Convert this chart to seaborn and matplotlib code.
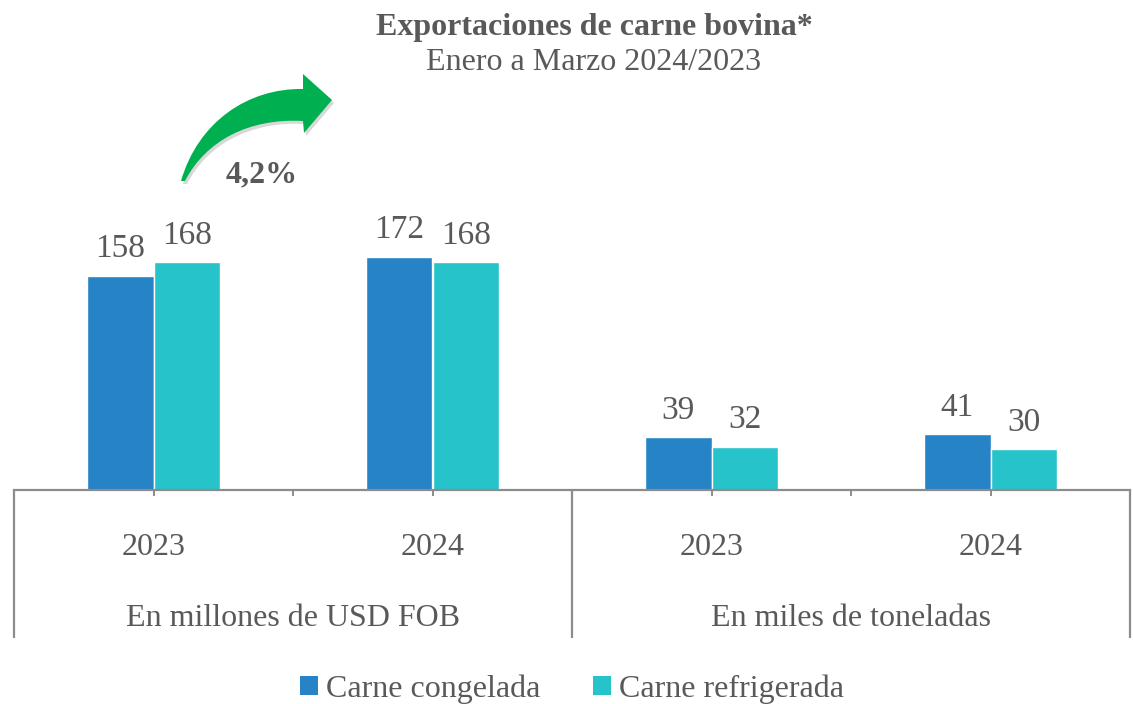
import matplotlib
matplotlib.use("Agg")
import matplotlib.pyplot as plt
import seaborn as sns
import pandas as pd
from matplotlib.path import Path
from matplotlib.patches import PathPatch, Patch

# ---- data ----
groups = ["En millones de USD FOB", "En miles de toneladas"]
years = ["2023", "2024", "2023", "2024"]
cat_keys = ["USD-2023", "USD-2024", "TON-2023", "TON-2024"]
series = ["Carne congelada", "Carne refrigerada"]
congelada = [158, 172, 39, 41]
refrigerada = [168, 168, 32, 30]
growth_label = "4,2%"
title = "Exportaciones de carne bovina*"
subtitle = "Enero a Marzo 2024/2023"

colors = ["#2683C6", "#27C3CB"]
gray = "#595959"
line_gray = "#8C8C8C"

df = pd.DataFrame({
    "cat": cat_keys * 2,
    "serie": [series[0]] * 4 + [series[1]] * 4,
    "valor": congelada + refrigerada,
})

sns.set_theme(style="white")
plt.rcParams["font.family"] = ["Liberation Serif", "DejaVu Serif"]

W, H = 1133, 704
fig = plt.figure(figsize=(W / 100, H / 100), dpi=100)
ax_top_px, ax_bot_px = 150, 490
ax_l_px, ax_r_px = 14, 1130
ax = fig.add_axes([ax_l_px / W, 1 - ax_bot_px / H,
                   (ax_r_px - ax_l_px) / W, (ax_bot_px - ax_top_px) / H])

sns.barplot(data=df, x="cat", y="valor", hue="serie", order=cat_keys,
            hue_order=series, palette=colors, width=0.48, gap=0,
            saturation=1, ax=ax, legend=False)

px_per_unit = 1.357
ax.set_ylim(0, (ax_bot_px - ax_top_px) / px_per_unit)
ax.set_xlim(-0.5, 3.5)

for cont in ax.containers:
    ax.bar_label(cont, fmt="%d", padding=8, fontsize=24, color=gray)

for s in ["left", "right", "top"]:
    ax.spines[s].set_visible(False)
ax.spines["bottom"].set_color(line_gray)
ax.spines["bottom"].set_linewidth(1.6)
ax.set_yticks([])
ax.set_xlabel("")
ax.set_ylabel("")

ax.set_xticks(range(4))
ax.set_xticklabels(years, fontsize=23, color=gray)
ax.set_xticks([0.5, 2.5], minor=True)
ax.tick_params(axis="x", which="both", direction="out", length=4,
               width=1.4, color=line_gray, bottom=True)
ax.tick_params(axis="x", which="major", pad=27)

trans = ax.get_xaxis_transform()
ax_h = ax_bot_px - ax_top_px
sep_bottom = -(638 - ax_bot_px) / ax_h
for xv in [-0.5, 1.5, 3.5]:
    ax.plot([xv, xv], [0, sep_bottom], transform=trans, color=line_gray,
            lw=1.6, clip_on=False, solid_capstyle="butt")

grp_y = -(618 - ax_bot_px) / ax_h
for gx, g in zip([0.5, 2.5], groups):
    ax.text(gx, grp_y, g, transform=trans, ha="center", va="center",
            fontsize=23, color=gray)

# title
fig.text(594 / W, 1 - 27 / H, title, ha="center", va="center",
         fontsize=23, fontweight="bold", color=gray)
fig.text(594 / W, 1 - 62 / H, subtitle, ha="center", va="center",
         fontsize=23, color=gray)

# curved growth arrow (decoration)
def P(x, y):
    return (x / W, 1 - y / H)

verts = [P(181, 181), P(198, 122), P(248, 88), P(303, 89),
         P(303, 74), P(332, 100), P(304, 133), P(303, 121),
         P(250, 118), P(206, 140), P(185, 181), P(181, 181)]
codes = [Path.MOVETO, Path.CURVE4, Path.CURVE4, Path.CURVE4,
         Path.LINETO, Path.LINETO, Path.LINETO, Path.LINETO,
         Path.CURVE4, Path.CURVE4, Path.CURVE4, Path.CLOSEPOLY]
shadow = [(x + 2 / W, y - 3 / H) for x, y in verts]
fig.patches.append(PathPatch(Path(shadow, codes), facecolor="#BFBFBF",
                             edgecolor="none", alpha=0.6,
                             transform=fig.transFigure, figure=fig))
fig.patches.append(PathPatch(Path(verts, codes), facecolor="#00B050",
                             edgecolor="none", transform=fig.transFigure,
                             figure=fig))
fig.text(262 / W, 1 - 175 / H, growth_label, ha="center", va="center",
         fontsize=23, fontweight="bold", color=gray)

# legend
handles = [Patch(facecolor=c, edgecolor="none") for c in colors]
fig.legend(handles, series, loc="center", bbox_to_anchor=(572 / W, 1 - 689 / H),
           ncol=2, frameon=False, fontsize=23, labelcolor=gray,
           handlelength=0.55, handleheight=0.55, handletextpad=0.25,
           columnspacing=1.65)

fig.savefig("out.png", dpi=100)
